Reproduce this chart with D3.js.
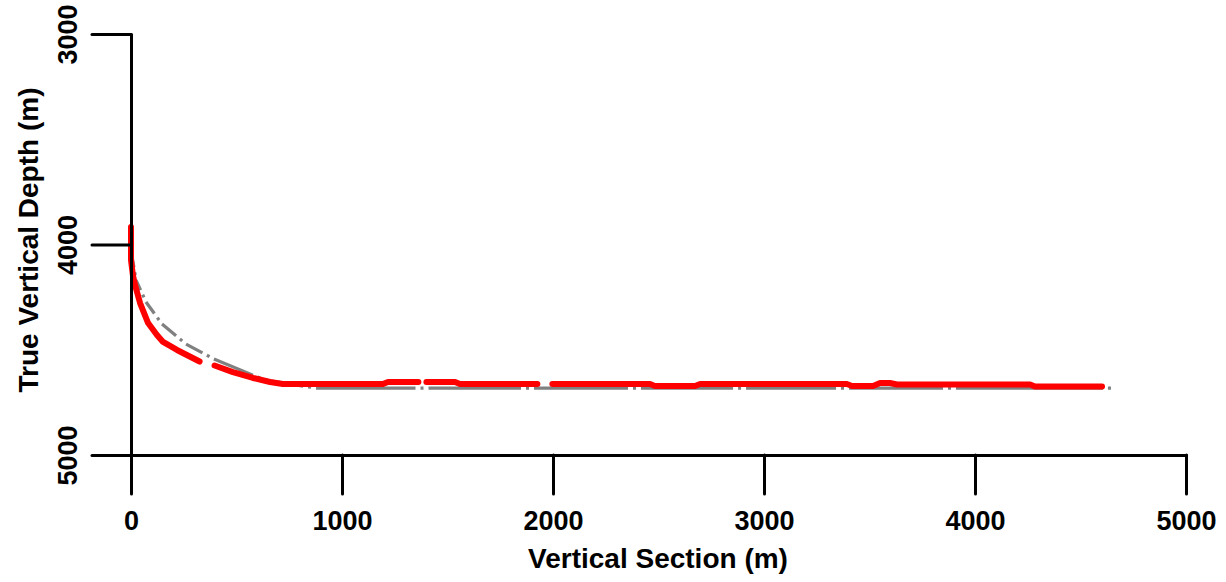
<!DOCTYPE html>
<html>
<head>
<meta charset="utf-8">
<script src="https://cdn.jsdelivr.net/npm/d3@7"></script>
<style>
  html, body { margin: 0; padding: 0; background: #fff; }
  svg { display: block; }
  text { font-family: "Liberation Sans", Arial, sans-serif; font-weight: bold; }
</style>
</head>
<body>
<svg id="chart" width="1226" height="582"></svg>
<script>
// ---- data (Vertical Section m, True Vertical Depth m) ----
const planVS  = [0, 24, 71, 147, 261, 393, 635, 877, 1410, 1910, 2417, 2915, 3403, 3910, 4668];
const planTVD = [4026, 4169, 4273, 4378, 4473, 4544, 4644, 4682, 4682, 4682, 4682, 4682, 4682, 4682, 4682];

// null marks a gap in the survey
const actualVS  = [0, 0, 9, 19, 43, 81, 123, 152, 218, 325, null, 396, 483, 578, 659, 720, 1194, 1218, 1362, null, 1400, 1536, 1559, 1926, null, 1997, 2460, 2483, 2673, 2697, 3393, 3417, 3517, 3550, 3597, 3630, 4261, 4284, 4602];
const actualTVD = [3917, 4074, 4145, 4192, 4278, 4373, 4430, 4463, 4501, 4556, null, 4575, 4606, 4634, 4653, 4663, 4663, 4653, 4653, null, 4653, 4653, 4663, 4663, null, 4663, 4663, 4672, 4672, 4663, 4663, 4672, 4672, 4658, 4658, 4665, 4665, 4675, 4675];

const xTicks = [0, 1000, 2000, 3000, 4000, 5000];
const yTicks = [3000, 4000, 5000];
const xTitle = "Vertical Section (m)";
const yTitle = "True Vertical Depth (m)";

// ---- layout ----
const svg = d3.select("#chart");
const x = d3.scaleLinear().domain([0, 5000]).range([131, 1186]);
const y = d3.scaleLinear().domain([3000, 5000]).range([34, 455]);

// ---- planned trajectory (grey, dot-dash per segment) ----
const plan = planVS.map((v, i) => ({ vs: v, tvd: planTVD[i] }));
const gPlan = svg.append("g");
for (let i = 0; i < plan.length - 1; i++) {
  const a = plan[i], b = plan[i + 1];
  const x1 = x(a.vs), y1 = y(a.tvd), x2 = x(b.vs), y2 = y(b.tvd);
  const len = Math.hypot(x2 - x1, y2 - y1);
  let dash;
  if (len > 16) dash = `${(len - 13).toFixed(2)},5,3,5`;
  else dash = `${Math.max(len - 8, 1).toFixed(2)},4,3,${len}`;
  gPlan.append("line")
    .attr("x1", x1).attr("y1", y1).attr("x2", x2).attr("y2", y2)
    .attr("stroke", "#808080").attr("stroke-width", 3.2)
    .attr("stroke-linecap", "butt")
    .attr("stroke-dasharray", dash);
}

// ---- actual trajectory (red) ----
const actual = actualVS.map((v, i) => ({ vs: v, tvd: actualTVD[i] }));
const line = d3.line()
  .defined(d => d.vs != null && d.tvd != null)
  .x(d => x(d.vs)).y(d => y(d.tvd));
svg.append("path")
  .datum(actual)
  .attr("d", line)
  .attr("fill", "none")
  .attr("stroke", "#ff0000")
  .attr("stroke-width", 6)
  .attr("stroke-linecap", "round")
  .attr("stroke-linejoin", "round");

// ---- axes ----
const xAxis = svg.append("g")
  .attr("transform", `translate(0,${y(5000)})`)
  .call(d3.axisBottom(x).tickValues(xTicks).tickSize(39).tickSizeOuter(0).tickFormat(d3.format("d")));
const yAxis = svg.append("g")
  .attr("transform", `translate(${x(0)},0)`)
  .call(d3.axisLeft(y).tickValues(yTicks).tickSize(39).tickSizeOuter(0).tickFormat(d3.format("d")));

[xAxis, yAxis].forEach(g => {
  g.select(".domain").attr("stroke", "#000").attr("stroke-width", 3).attr("stroke-linecap", "round");
  g.selectAll(".tick line").attr("stroke", "#000").attr("stroke-width", 3).attr("stroke-linecap", "round");
  g.selectAll(".tick text")
    .attr("fill", "#000")
    .style("font-family", '"Liberation Sans", Arial, sans-serif')
    .style("font-weight", "bold")
    .style("font-size", "27px");
});
xAxis.selectAll(".tick text").attr("y", 75).attr("dy", 0).attr("text-anchor", "middle");
yAxis.selectAll(".tick text")
  .attr("transform", "rotate(-90)")
  .attr("x", 0).attr("y", -54).attr("dy", 0)
  .attr("text-anchor", "middle");

// ---- titles ----
svg.append("text")
  .attr("x", 658).attr("y", 568)
  .attr("text-anchor", "middle")
  .style("font-size", "28px")
  .text(xTitle);
svg.append("text")
  .attr("transform", "translate(38,240) rotate(-90)")
  .attr("text-anchor", "middle")
  .style("font-size", "28px")
  .text(yTitle);
</script>
</body>
</html>
